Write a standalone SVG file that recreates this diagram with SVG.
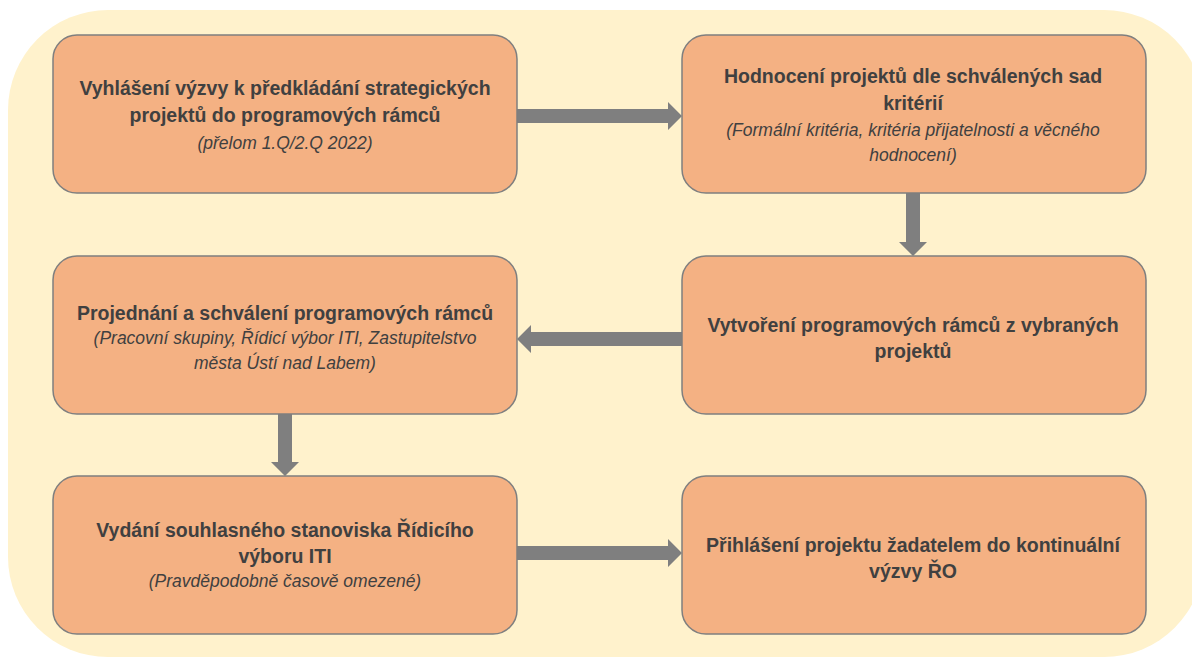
<svg xmlns="http://www.w3.org/2000/svg" width="1192" height="657" viewBox="0 0 1192 657">
  <style>
    .node rect { fill: #F4B183; stroke: #7F7F7F; stroke-width: 1.5; }
    .b { font-family: "Liberation Sans", Arial, sans-serif; font-weight: bold; font-size: 19.5px; fill: #404040; text-anchor: middle; }
    .i { font-family: "Liberation Sans", Arial, sans-serif; font-style: italic; font-size: 17.5px; fill: #404040; text-anchor: middle; }
    .arrow { fill: #7F7F7F; }
  </style>
  <rect width="1192" height="657" fill="#FFFFFF"/>
  <rect id="background" x="8" y="10" width="1196" height="647" rx="100" ry="100" fill="#FFF2CC"/>
  <g id="connectors">
    <polygon class="arrow" points="517,109 668,109 668,102 682,116 668,130 668,123 517,123"/>
    <polygon class="arrow" points="906,193 920,193 920,242 927,242 913,256 899,242 906,242"/>
    <polygon class="arrow" points="682,332 531,332 531,325 517,339 531,353 531,346 682,346"/>
    <polygon class="arrow" points="278,414 292,414 292,462 299,462 285,476 271,462 278,462"/>
    <polygon class="arrow" points="517,546 668,546 668,539 682,553 668,567 668,560 517,560"/>
  </g>
  <g id="node1" class="node">
    <rect x="53" y="35" width="464" height="158" rx="24"/>
    <text class="b" x="285" y="95">Vyhlášení výzvy k předkládání strategických</text>
    <text class="b" x="285" y="122">projektů do programových rámců</text>
    <text class="i" x="285" y="149">(přelom 1.Q/2.Q 2022)</text>
  </g>
  <g id="node2" class="node">
    <rect x="682" y="35" width="464" height="158" rx="24"/>
    <text class="b" x="913" y="83">Hodnocení projektů dle schválených sad</text>
    <text class="b" x="913" y="110">kritérií</text>
    <text class="i" x="913" y="136">(Formální kritéria, kritéria přijatelnosti a věcného</text>
    <text class="i" x="913" y="161">hodnocení)</text>
  </g>
  <g id="node3" class="node">
    <rect x="53" y="256" width="464" height="158" rx="24"/>
    <text class="b" x="285" y="320">Projednání a schválení programových rámců</text>
    <text class="i" x="285" y="344">(Pracovní skupiny, Řídicí výbor ITI, Zastupitelstvo</text>
    <text class="i" x="285" y="369">města Ústí nad Labem)</text>
  </g>
  <g id="node4" class="node">
    <rect x="682" y="256" width="464" height="158" rx="24"/>
    <text class="b" x="913" y="332">Vytvoření programových rámců z vybraných</text>
    <text class="b" x="913" y="358">projektů</text>
  </g>
  <g id="node5" class="node">
    <rect x="53" y="476" width="464" height="158" rx="24"/>
    <text class="b" x="285" y="537">Vydání souhlasného stanoviska Řídicího</text>
    <text class="b" x="285" y="563">výboru ITI</text>
    <text class="i" x="285" y="587">(Pravděpodobně časově omezené)</text>
  </g>
  <g id="node6" class="node">
    <rect x="682" y="476" width="464" height="158" rx="24"/>
    <text class="b" x="913" y="552">Přihlášení projektu žadatelem do kontinuální</text>
    <text class="b" x="913" y="578">výzvy ŘO</text>
  </g>
</svg>
